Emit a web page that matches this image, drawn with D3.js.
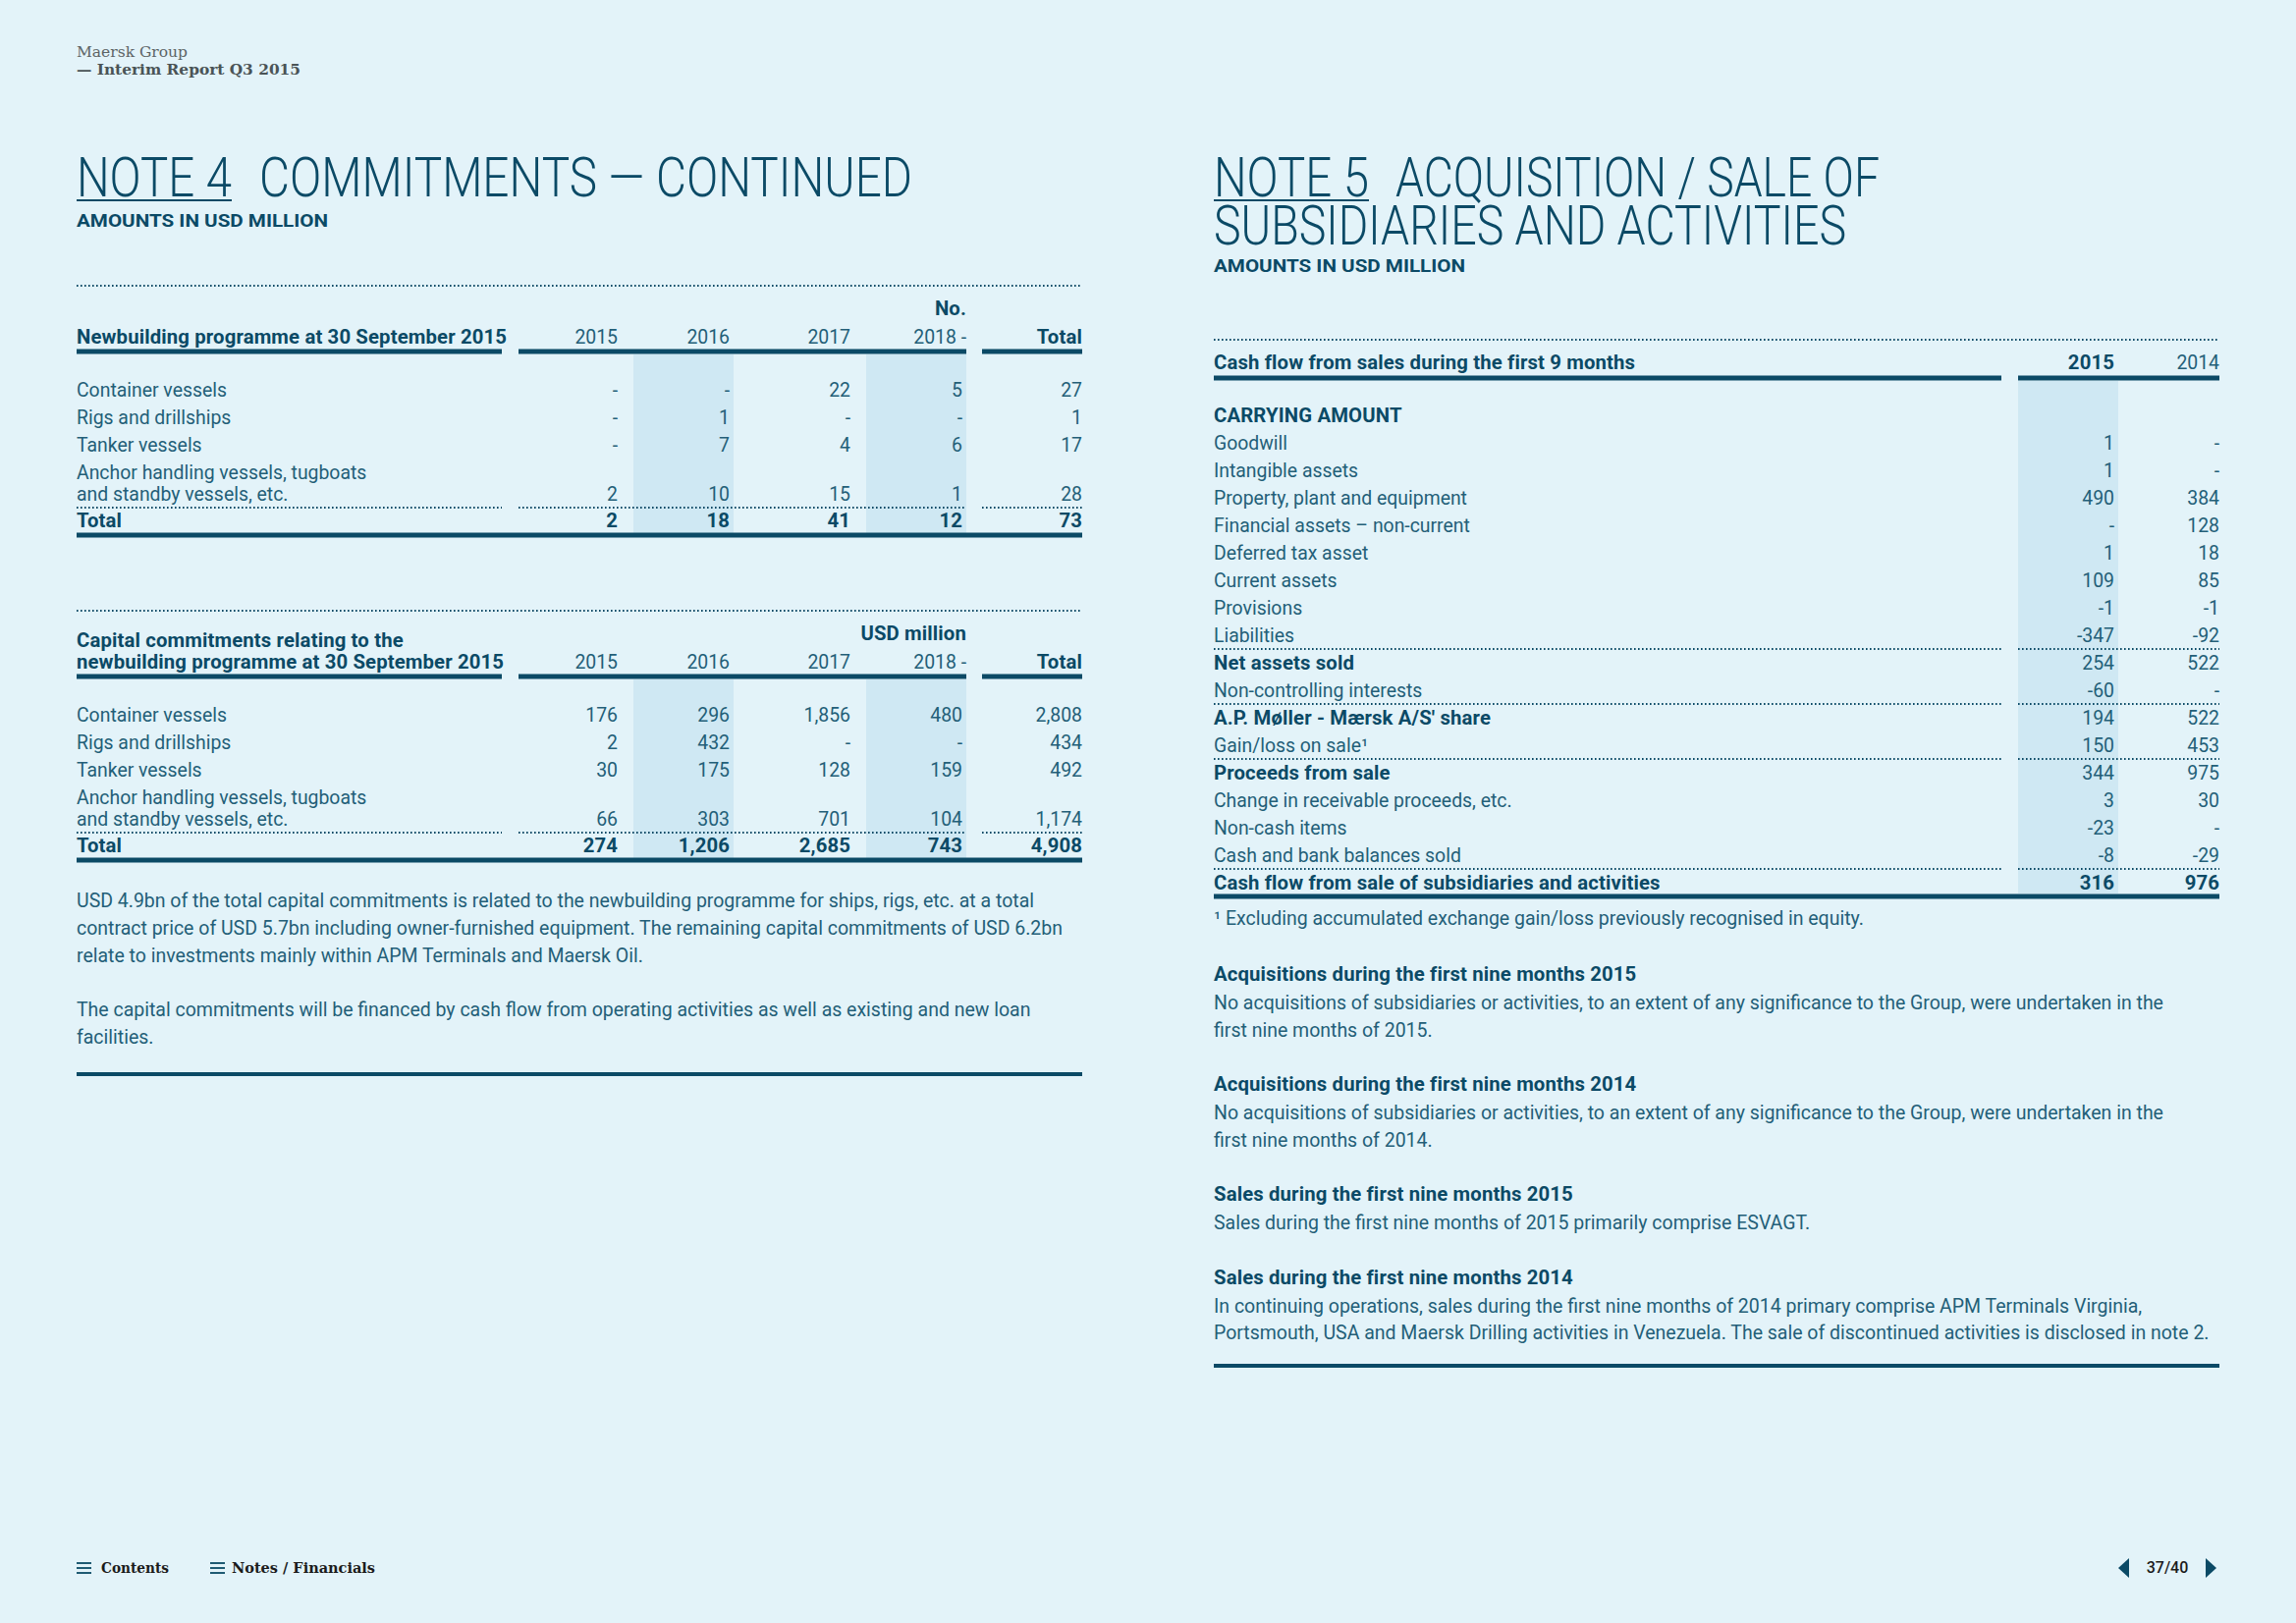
<!DOCTYPE html>
<html><head><meta charset="utf-8">
<script src="https://cdn.jsdelivr.net/npm/d3@7"></script>
<style>html,body{margin:0;padding:0;background:#e3f3f9;} svg{display:block}</style>
</head><body><svg id="c" width="2338" height="1653"></svg>
<script>
// ---------------- DATA ----------------
const yearCols = ["2015", "2016", "2017", "2018 -"];
const totalCol = "Total";
const vesselTypes = ["Container vessels", "Rigs and drillships", "Tanker vessels",
  "Anchor handling vessels, tugboats|and standby vessels, etc."];
const newbuildNo = [[null, null, 22, 5], [null, 1, null, null], [null, 7, 4, 6], [2, 10, 15, 1]];
const newbuildNoRowTotal = [27, 1, 17, 28];
const newbuildNoColTotal = [2, 18, 41, 12, 73];
const capCommit = [[176, 296, 1856, 480], [2, 432, null, null], [30, 175, 128, 159], [66, 303, 701, 104]];
const capCommitRowTotal = [2808, 434, 492, 1174];
const capCommitColTotal = [274, 1206, 2685, 743, 4908];

const saleYears = ["2015", "2014"];
const saleItems = ["Goodwill", "Intangible assets", "Property, plant and equipment",
  "Financial assets \u2013 non-current", "Deferred tax asset", "Current assets", "Provisions", "Liabilities",
  "Net assets sold", "Non-controlling interests", "A.P. M\u00f8ller - M\u00e6rsk A/S' share",
  "Gain/loss on sale\u00b9", "Proceeds from sale", "Change in receivable proceeds, etc.",
  "Non-cash items", "Cash and bank balances sold", "Cash flow from sale of subsidiaries and activities"];
const sale2015 = [1, 1, 490, null, 1, 109, -1, -347, 254, -60, 194, 150, 344, 3, -23, -8, 316];
const sale2014 = [null, null, 384, 128, 18, 85, -1, -92, 522, null, 522, 453, 975, 30, null, -29, 976];

const note4Paragraphs = [
  ["USD 4.9bn of the total capital commitments is related to the newbuilding programme for ships, rigs, etc. at a total",
   "contract price of USD 5.7bn including owner-furnished equipment. The remaining capital commitments of USD 6.2bn",
   "relate to investments mainly within APM Terminals and Maersk Oil."],
  ["The capital commitments will be financed by cash flow from operating activities as well as existing and new loan",
   "facilities."]
];
const note5Sections = [
  {head: "Acquisitions during the first nine months 2015",
   lines: ["No acquisitions of subsidiaries or activities, to an extent of any significance to the Group, were undertaken in the",
           "first nine months of 2015."]},
  {head: "Acquisitions during the first nine months 2014",
   lines: ["No acquisitions of subsidiaries or activities, to an extent of any significance to the Group, were undertaken in the",
           "first nine months of 2014."]},
  {head: "Sales during the first nine months 2015",
   lines: ["Sales during the first nine months of 2015 primarily comprise ESVAGT."]},
  {head: "Sales during the first nine months 2014",
   lines: ["In continuing operations, sales during the first nine months of 2014 primary comprise APM Terminals Virginia,",
           "Portsmouth, USA and Maersk Drilling activities in Venezuela. The sale of discontinued activities is disclosed in note 2."]}
];
const footnote = "\u00b9 Excluding accumulated exchange gain/loss previously recognised in equity.";

// ---------------- STYLE ----------------
const C = {bg: "#e3f3f9", shade: "#cfe8f3", dark: "#0b4a66", body: "#235f78", gray: "#5d6466", black: "#1b1b1b"};
const FS = 19.4, FSB = 20.3;
const fmtN = d3.format(",");
const fmt = v => v == null ? "-" : (v < 0 ? "-" : "") + fmtN(Math.abs(v));

const svg = d3.select("#c");
svg.append("rect").attr("width", 2338).attr("height", 1653).attr("fill", C.bg);

function T(g, x, y, s, o = {}) {
  const bold = (o.fw || 400) >= 700;
  const t = g.append("text").attr("x", x).attr("y", y).text(s)
    .attr("font-family", o.ff || "Roboto")
    .attr("font-size", o.fs || (bold ? FSB : FS))
    .attr("font-weight", o.fw || 400)
    .attr("fill", o.fill || C.body)
    .attr("text-anchor", o.anchor || "start");
  if (bold && !o.fs) t.attr("letter-spacing", 0.15);
  if (o.w) t.attr("textLength", o.w).attr("lengthAdjust", "spacingAndGlyphs");
  if (o.cls) t.attr("class", o.cls);
  return t;
}
function hRule(g, x1, x2, y, h) {
  g.append("rect").attr("x", x1).attr("y", y - h / 2).attr("width", x2 - x1).attr("height", h).attr("fill", C.dark);
}
function dotted(g, x1, x2, y) {
  g.append("line").attr("x1", x1).attr("x2", x2).attr("y1", y).attr("y2", y)
    .attr("stroke", C.dark).attr("stroke-width", 2).attr("stroke-dasharray", "1.6,2.4");
}

// ---------------- PAGE HEADER ----------------
T(svg, 78, 58, "Maersk Group", {ff: "DejaVu Serif", fs: 14, fill: C.gray, w: 113});
T(svg, 78, 76, "\u2014 Interim Report Q3 2015", {ff: "DejaVu Serif", fs: 14, fw: 700, fill: "#4a5356", w: 228});

// ---------------- TITLES ----------------
function noteTitle(x, y, num, rest) {
  T(svg, x, y, num, {fs: 55, fw: 300, fill: C.dark, w: 158});
  hRule(svg, x, x + 158, y + 4, 2);
  rest.forEach((r, i) => T(svg, i === 0 ? r.x : x, y + i * 49, r.s, {fs: 55, fw: 300, fill: C.dark, w: r.w}));
}
noteTitle(78, 200, "NOTE 4", [{x: 264, s: "COMMITMENTS \u2014 CONTINUED", w: 665}]);
T(svg, 78, 231, "AMOUNTS IN USD MILLION", {fs: 19, fw: 700, fill: C.dark, w: 256});
noteTitle(1236, 200, "NOTE 5", [{x: 1421, s: "ACQUISITION / SALE OF", w: 493}, {x: 1236, s: "SUBSIDIARIES AND ACTIVITIES", w: 644}]);
T(svg, 1236, 277, "AMOUNTS IN USD MILLION", {fs: 19, fw: 700, fill: C.dark, w: 256});

// ---------------- NOTE 4 TABLES ----------------
const cols = [...yearCols, totalCol];
const xCol = d3.scaleOrdinal().domain(cols).range([629, 743, 866, 980, 1102]);
const segs = [[78, 511], [528, 984], [1000, 1102]];

function countTable(top, unit, titleLines, rows, rowTot, colTot) {
  const g = svg.append("g");
  const y = d3.scaleLinear().domain([0, 1]).range([top + 113, top + 141]);
  let extra = 0;
  const rowY = vesselTypes.map((lab, i) => {
    const n = lab.split("|").length;
    const first = y(i) + extra;
    extra += (n - 1) * 22;
    return {first, last: first + (n - 1) * 22};
  });
  const lastY = rowY[rowY.length - 1].last;
  const totY = lastY + 27;
  [yearCols[1], yearCols[3]].forEach(c => {
    g.append("rect").attr("x", xCol(c) - 98).attr("y", top + 70).attr("width", 102)
      .attr("height", totY + 6 - (top + 70)).attr("fill", C.shade);
  });
  dotted(g, 78, 1102, top);
  T(g, 984, top + 30, unit, {fw: 700, fill: C.dark, anchor: "end"});
  titleLines.forEach((s, i, a) => T(g, 78, top + 59 - (a.length - 1 - i) * 22, s, {fw: 700, fill: C.dark}));
  cols.forEach(c => T(g, xCol(c) + (c === "2018 -" ? 4 : 0), top + 59, c,
    {anchor: "end", fw: c === totalCol ? 700 : 400, fill: c === totalCol ? C.dark : C.body}));
  segs.forEach(s => hRule(g, s[0], s[1], top + 67, 5));
  vesselTypes.forEach((lab, i) => {
    lab.split("|").forEach((s, j) => T(g, 78, rowY[i].first + j * 22, s));
    rows[i].forEach((v, j) => T(g, xCol(yearCols[j]), rowY[i].last, fmt(v), {anchor: "end"}));
    T(g, xCol(totalCol), rowY[i].last, fmt(rowTot[i]), {anchor: "end"});
  });
  segs.forEach(s => dotted(g, s[0], s[1], lastY + 7));
  T(g, 78, totY, "Total", {fw: 700, fill: C.dark});
  colTot.forEach((v, j) => T(g, xCol(cols[j]), totY, fmt(v), {anchor: "end", fw: 700, fill: C.dark}));
  hRule(g, 78, 1102, totY + 8, 5);
}
countTable(291, "No.", ["Newbuilding programme at 30 September 2015"], newbuildNo, newbuildNoRowTotal, newbuildNoColTotal);
countTable(622, "USD million", ["Capital commitments relating to the", "newbuilding programme at 30 September 2015"], capCommit, capCommitRowTotal, capCommitColTotal);

// paragraphs note 4
const bodyLines = [];
let py = 924;
note4Paragraphs.forEach(p => {
  p.forEach(s => { bodyLines.push(T(svg, 78, py, s, {cls: "body"})); py += 28; });
  py += 27;
});
hRule(svg, 78, 1102, 1094, 4);

// ---------------- NOTE 5 TABLE ----------------
const g5 = svg.append("g");
const top5 = 346;
const xS = d3.scaleOrdinal().domain(saleYears).range([2153, 2260]);
const yS = d3.scaleLinear().domain([0, 1]).range([top5 + 84, top5 + 112]);
const subtotals = new Set([8, 10, 12, 16]);
g5.append("rect").attr("x", xS("2015") - 98).attr("y", top5 + 42).attr("width", 102)
  .attr("height", yS(saleItems.length) + 4 - (top5 + 42)).attr("fill", C.shade);
dotted(g5, 1236, 2260, top5);
T(g5, 1236, top5 + 30, "Cash flow from sales during the first 9 months", {fw: 700, fill: C.dark});
saleYears.forEach((yv, i) => T(g5, xS(yv), top5 + 30, yv, {anchor: "end", fw: i === 0 ? 700 : 400, fill: i === 0 ? C.dark : C.body}));
hRule(g5, 1236, 2038, top5 + 39, 5);
hRule(g5, 2055, 2260, top5 + 39, 5);
T(g5, 1236, yS(0), "CARRYING AMOUNT", {fw: 700, fill: C.dark});
saleItems.forEach((lab, i) => {
  const yy = yS(i + 1);
  const sub = subtotals.has(i);
  const last = i === saleItems.length - 1;
  if (sub) { dotted(g5, 1236, 2038, yy - 21); dotted(g5, 2055, 2260, yy - 21); }
  T(g5, 1236, yy, lab, {fw: sub ? 700 : 400, fill: sub ? C.dark : C.body});
  T(g5, xS("2015"), yy, fmt(sale2015[i]), {anchor: "end", fw: last ? 700 : 400, fill: last ? C.dark : C.body});
  T(g5, xS("2014"), yy, fmt(sale2014[i]), {anchor: "end", fw: last ? 700 : 400, fill: last ? C.dark : C.body});
});
hRule(g5, 1236, 2260, yS(saleItems.length) + 7, 5);

bodyLines.push(T(svg, 1236, 942, footnote, {cls: "body"}));
let sy = 999;
note5Sections.forEach(sec => {
  T(svg, 1236, sy, sec.head, {fw: 700, fill: C.dark});
  sec.lines.forEach((s, i) => bodyLines.push(T(svg, 1236, sy + 29 + i * 27.5, s, {cls: "body"})));
  sy += 29 + sec.lines.length * 27.5 + 28;
});
hRule(svg, 1236, 2260, 1391, 4);

// match the reference face's set width on running text
const ref = bodyLines[0].node().getComputedTextLength();
const k = 975 / ref;
bodyLines.forEach(t => {
  const w = t.node().getComputedTextLength();
  t.attr("textLength", w * k).attr("lengthAdjust", "spacingAndGlyphs");
});

// ---------------- FOOTER ----------------
function burger(x, y) {
  [-5, 0, 5].forEach(d => svg.append("rect").attr("x", x).attr("y", y + d - 1).attr("width", 15).attr("height", 2).attr("fill", "#1f5b73"));
}
burger(78, 1597);
T(svg, 103, 1602, "Contents", {ff: "DejaVu Serif", fs: 14, fw: 700, fill: C.black, w: 69});
burger(214, 1597);
T(svg, 236, 1602, "Notes  /  Financials", {ff: "DejaVu Serif", fs: 14, fw: 700, fill: C.black, w: 146});
svg.append("path").attr("d", "M2157,1597 L2168,1587 L2168,1607 Z").attr("fill", C.dark);
svg.append("path").attr("d", "M2257,1597 L2246,1587 L2246,1607 Z").attr("fill", C.dark);
T(svg, 2207, 1602, "37/40", {fs: 16, fw: 500, fill: C.black, anchor: "middle"});
</script></body></html>
